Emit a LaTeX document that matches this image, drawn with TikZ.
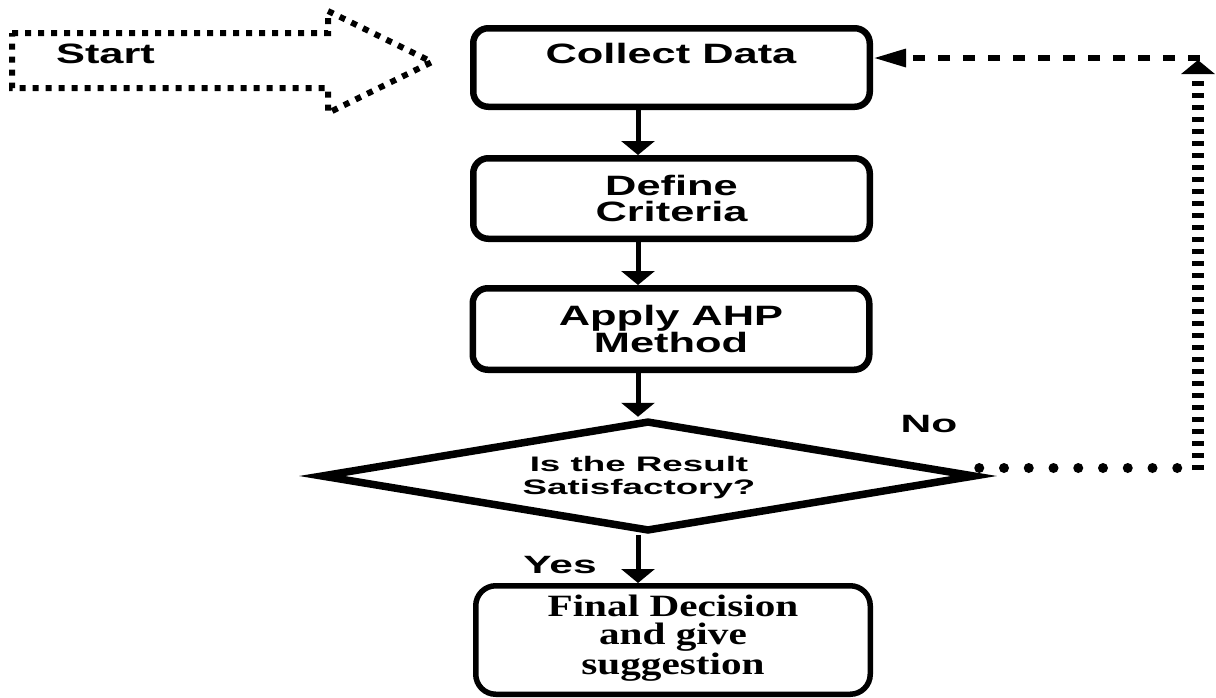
\documentclass[tikz,border=0pt]{standalone}
\usepackage{fontspec}
\usetikzlibrary{arrows.meta,shapes.geometric}
\newfontfamily\sfA[FakeStretch=1.55]{Liberation Sans}
\newfontfamily\sfB[FakeStretch=1.75]{Liberation Sans}
\newfontfamily\sfC[FakeStretch=1.7]{Liberation Sans}
\newfontfamily\rmA[FakeStretch=1.33]{Liberation Serif}
\begin{document}
\begin{tikzpicture}[x=1pt,y=-1pt,
  box/.style={draw, line width=6.5pt, rounded corners=15pt, minimum width=396.5pt, inner sep=0pt},
  boxfont/.style={font=\sfA\bfseries\fontsize{28}{26.5}\selectfont, align=center, inner sep=0pt},
  dfont/.style={font=\sfB\bfseries\fontsize{21}{23}\selectfont, align=center, inner sep=0pt},
  lblfont/.style={font=\sfC\bfseries\fontsize{25}{26}\selectfont, inner sep=0pt},
  ffont/.style={font=\rmA\bfseries\fontsize{31}{28}\selectfont, align=center, inner sep=0pt},
  arr/.style={line width=5pt, -{Triangle[width=33pt,length=14pt]}},
  startline/.style={line width=6pt, dash pattern=on 6pt off 7pt},
  rounddots/.style={line width=10pt, line cap=round, dash pattern=on 0pt off 24.75pt},
  vdash/.style={line width=12pt, dash pattern=on 5pt off 7pt, -{Triangle[width=33pt,length=14pt]}},
  hdash/.style={line width=6pt, dash pattern=on 12pt off 13pt, -{Triangle[width=17pt,length=33pt]}}
]
\useasboundingbox (0,0) rectangle (1216,697);

% Start arrow
\draw[startline] (12,33) -- (328,33) -- (328,11) -- (432,62) -- (328,113) -- (328,88) -- (12,88) -- cycle;
\node[boxfont, anchor=base] (start) at (105.5,63.5) {Start};

% Boxes
\node[box, minimum height=78.5pt] (cd) at (671.5,67.5) {};
\node[boxfont, anchor=base] (cdt) at (671,63.5) {Collect Data};
\node[box, minimum height=80.5pt, boxfont] (dc) at (671.5,198.5) {Define\\Criteria};
\node[box, minimum height=81.5pt, boxfont] (ap) at (671,329) {Apply AHP\\Method};

% Decision
\node[draw, diamond, line width=7.5pt, minimum width=655pt, minimum height=111pt, inner sep=0pt] (dia) at (648,476) {};
\node[dfont] (dt) at (639,478) {Is the Result\\Satisfactory?};

% Final
\node[draw, line width=5.5pt, rounded corners=20pt, minimum width=394.5pt, minimum height=108.5pt, inner sep=0pt] (fd) at (673,640) {};
\node[ffont] (fdt) at (673,638) {Final Decision\\and give\\suggestion};

% Labels
\node[lblfont, anchor=base] (no) at (929,432) {No};
\node[lblfont, anchor=base] (yes) at (560,573) {Yes};

% Main arrows
\coordinate (ax) at (638,0);
\draw[arr] (cd.south -| ax) -- (dc.north -| ax);
\draw[arr] (dc.south -| ax) -- (ap.north -| ax);
\draw[arr] (ap.south -| ax) -- (ax |- dia.north);
\draw[arr] (ax |- dia.south) -- (fd.north -| ax);

% Feedback loop
\coordinate (c0) at (1181,468);
\coordinate (c1) at (1198,470);
\coordinate (c2) at (1198,60);
\coordinate (c3) at (1200,58);
\draw[rounddots] (dia.east |- c0) -- (c0);
\draw[vdash] (c1) -- (c2);
\draw[hdash] (c3) -- (cd.east |- c3);
\end{tikzpicture}
\end{document}
